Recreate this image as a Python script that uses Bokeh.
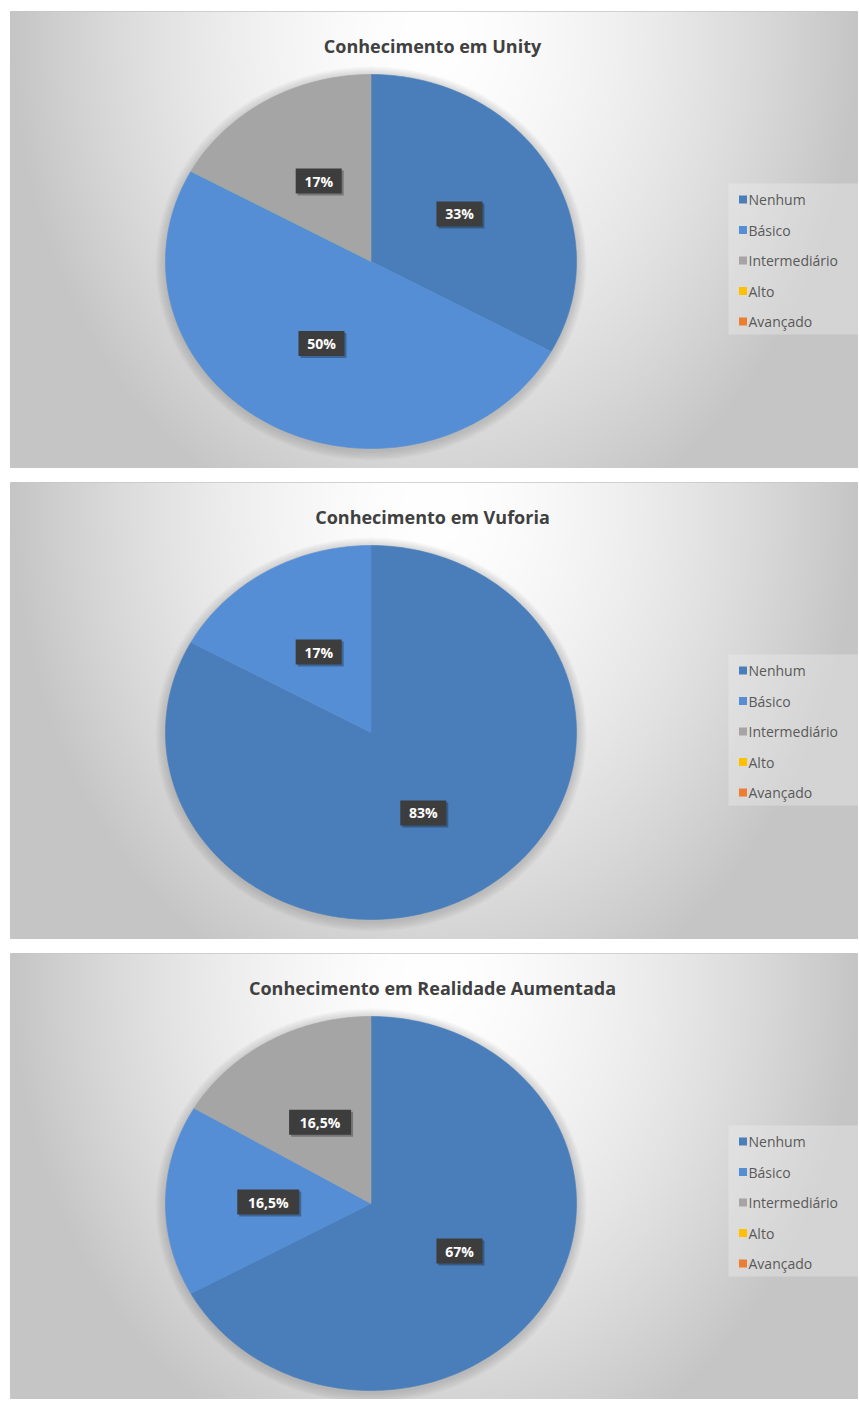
import numpy as np
from bokeh.plotting import figure
from bokeh.layouts import column
from bokeh.models import Range1d
from bokeh.core.properties import value
from bokeh.embed import file_html
from bokeh.resources import INLINE

# ---------------- data ----------------
categories = ["Nenhum", "Básico", "Intermediário", "Alto", "Avançado"]
colors = ["#4A7EBB", "#558ED5", "#A5A5A5", "#FFC000", "#ED7D31"]

titles = ["Conhecimento em Unity",
          "Conhecimento em Vuforia",
          "Conhecimento em Realidade Aumentada"]

unity_values = [33, 50, 17, 0, 0]
unity_labels = ["33%", "50%", "17%", "", ""]

vuforia_values = [83, 17, 0, 0, 0]
vuforia_labels = ["83%", "17%", "", "", ""]

ra_values = [67, 16.5, 16.5, 0, 0]
ra_labels = ["67%", "16,5%", "16,5%", "", ""]

# ---------------- style ----------------
W = 848
FONT = "Open Sans"


def make_panel(title, values, labels, H):
    p = figure(width=W, height=H, x_range=Range1d(0, W), y_range=Range1d(0, H),
               x_axis_type=None, y_axis_type=None, toolbar_location=None,
               output_backend="svg", min_border=0)
    p.grid.visible = False
    p.outline_line_color = "#c6c6c6"
    p.background_fill_color = "#d9d9d9"
    p.border_fill_color = "white"

    # radial background gradient
    nx, ny = W // 2, H // 2
    xs = (np.arange(nx) + 0.5) / nx * W
    ys = (np.arange(ny) + 0.5) / ny * H
    X, Y = np.meshgrid(xs, ys)
    d = np.sqrt(((X - W / 2) / (W / 2)) ** 2 + ((Y - (H - 25)) / (H * 1.15)) ** 2)
    g = (255 - 58 * np.clip(d, 0, 1) ** 1.6).astype(np.uint8)
    rgba = np.zeros((ny, nx, 4), dtype=np.uint8)
    rgba[..., 0] = g
    rgba[..., 1] = g
    rgba[..., 2] = g
    rgba[..., 3] = 255
    img = rgba.view(dtype=np.uint32).reshape((ny, nx))
    p.image_rgba(image=[img], x=0, y=0, dw=W, dh=H)

    cx, cy = 360.5, H - 250
    rx, ry = 205.5, 187.0

    # soft shadow around pie
    for k in range(9, 0, -1):
        p.ellipse(x=cx, y=cy - 2, width=2 * rx + 2.2 * k, height=2 * ry + 2.2 * k,
                  fill_color="#7a7a7a", fill_alpha=0.035, line_color=None)

    vals = np.array(values, dtype=float)
    frac = vals / vals.sum()
    ends = np.cumsum(frac) * 2 * np.pi
    starts = ends - frac * 2 * np.pi

    pxs, pys, pcols = [], [], []
    lab_x, lab_y, lab_t = [], [], []
    for a0, a1, c, lab, f in zip(starts, ends, colors, labels, frac):
        if f <= 0:
            continue
        th = np.linspace(a0, a1, max(int((a1 - a0) / (2 * np.pi) * 360), 4))
        pxs.append(np.concatenate([[cx], cx + rx * np.sin(th), [cx]]).tolist())
        pys.append(np.concatenate([[cy], cy + ry * np.cos(th), [cy]]).tolist())
        pcols.append(c)
        mid = (a0 + a1) / 2
        lab_x.append(cx + 0.5 * rx * np.sin(mid))
        lab_y.append(cy + 0.5 * ry * np.cos(mid))
        lab_t.append(lab)

    p.patches(xs=pxs, ys=pys, fill_color=pcols, line_color=pcols, line_width=0.6)

    # data labels (dark boxes)
    bw = [22 + 8 * len(t) for t in lab_t]
    p.rect(x=[x + 2 for x in lab_x], y=[y - 2 for y in lab_y], width=bw, height=25,
           fill_color="#000000", fill_alpha=0.28, line_color=None)
    p.rect(x=lab_x, y=lab_y, width=bw, height=25,
           fill_color="#3d3d3d", line_color=None)
    p.text(x=lab_x, y=lab_y, text=lab_t, text_align="center", text_baseline="middle",
           text_font=value(FONT), text_font_style="bold", text_font_size="14px",
           text_color="white")

    # title
    p.text(x=[W / 2 - 2], y=[H - 34], text=[title], text_align="center",
           text_baseline="alphabetic", text_font=value(FONT), text_font_style="bold",
           text_font_size="18px", text_color="#404040")

    # legend
    p.rect(x=[(718 + W) / 2], y=[H - (172 + 323) / 2], width=W - 718, height=151,
           fill_color="#f0f0f0", fill_alpha=0.35, line_color=None)
    ly = [H - (188 + i * 30.5) for i in range(len(categories))]
    p.rect(x=[732.5] * len(categories), y=ly, width=8, height=8,
           fill_color=colors, line_color=None)
    p.text(x=[738] * len(categories), y=ly, text=categories, text_align="left",
           text_baseline="middle", text_font=value(FONT), text_font_size="14px",
           text_color="#595959")
    return p


p1 = make_panel(titles[0], unity_values, unity_labels, 457)
p2 = make_panel(titles[1], vuforia_values, vuforia_labels, 457)
p3 = make_panel(titles[2], ra_values, ra_labels, 446)

layout = column(p1, p2, p3, spacing=14, margin=(11, 0, 0, 10))

open("out.html", "w").write(file_html(layout, INLINE))
